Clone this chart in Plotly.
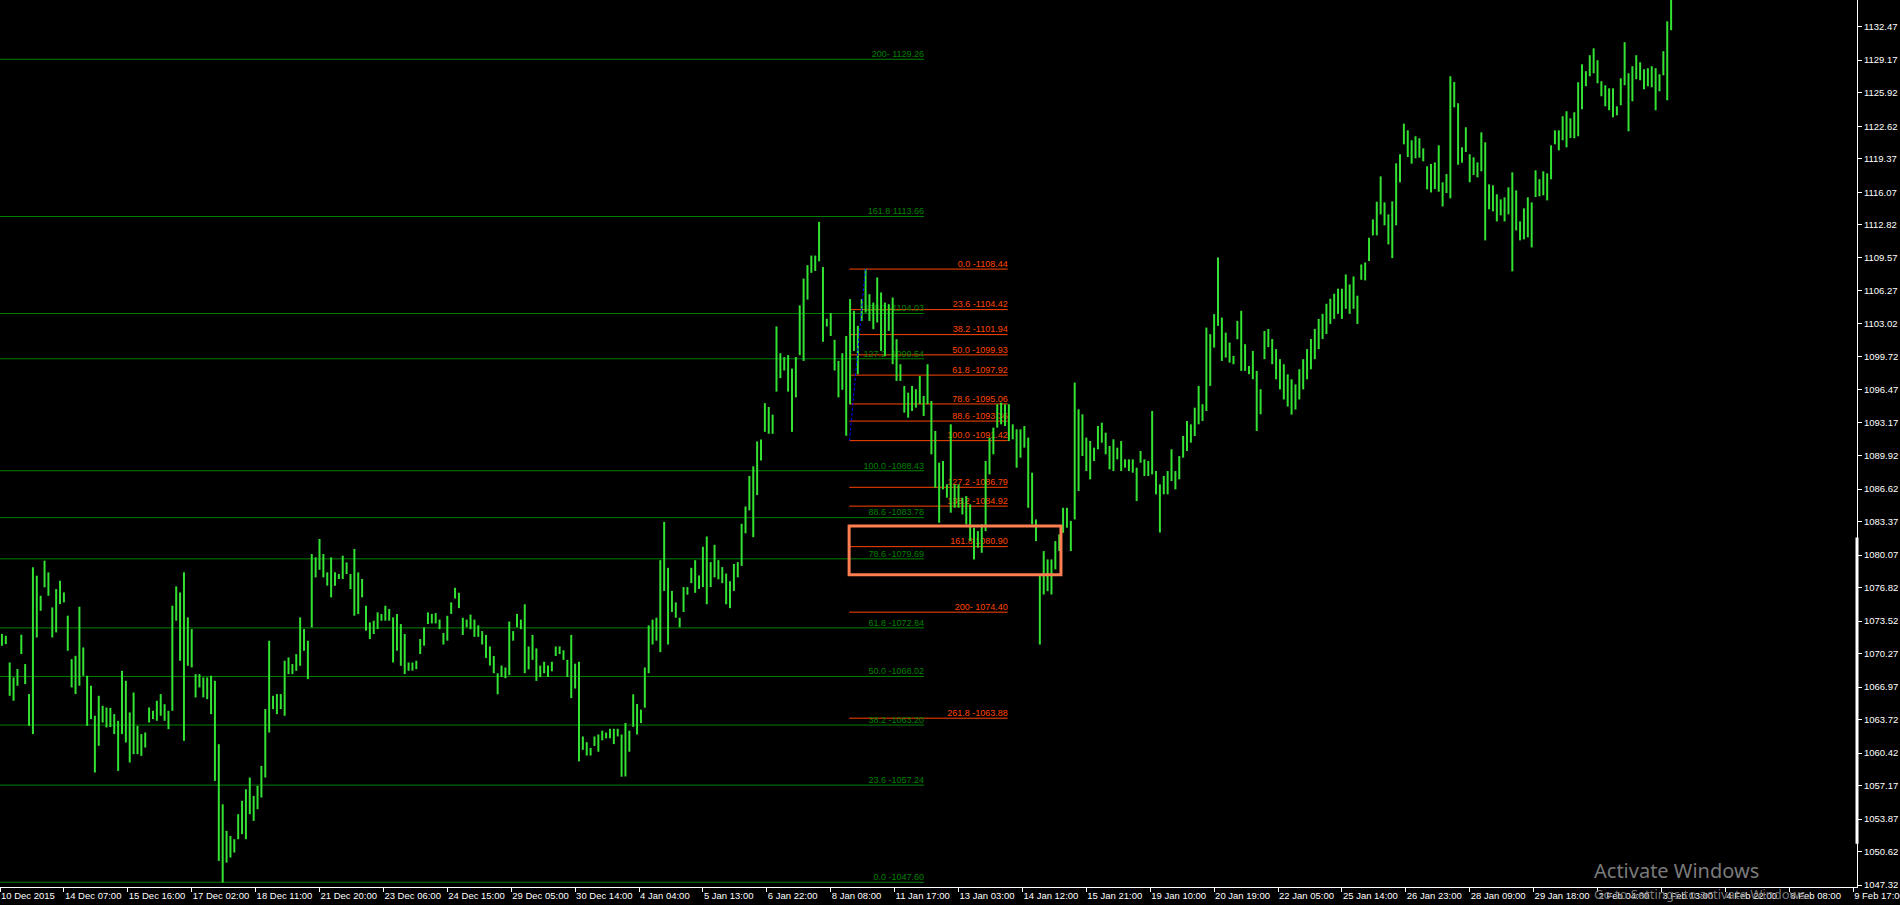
import plotly.graph_objects as go

# ---------------- data ----------------
time_labels = ["10 Dec 2015", "14 Dec 07:00", "15 Dec 16:00", "17 Dec 02:00", "18 Dec 11:00",
               "21 Dec 20:00", "23 Dec 06:00", "24 Dec 15:00", "29 Dec 05:00", "30 Dec 14:00",
               "4 Jan 04:00", "5 Jan 13:00", "6 Jan 22:00", "8 Jan 08:00", "11 Jan 17:00",
               "13 Jan 03:00", "14 Jan 12:00", "15 Jan 21:00", "19 Jan 10:00", "20 Jan 19:00",
               "22 Jan 05:00", "25 Jan 14:00", "26 Jan 23:00", "28 Jan 09:00", "29 Jan 18:00",
               "2 Feb 04:00", "3 Feb 13:00", "4 Feb 22:00", "8 Feb 08:00", "9 Feb 17:00"]
time_label_bars = [0, 33, 66, 99, 132, 165, 198, 231, 264, 297, 330, 363, 396, 429, 462,
                   495, 528, 561, 594, 627, 660, 693, 726, 759, 792, 825, 858, 891, 924, 957]

price_ticks = [1132.47, 1129.17, 1125.92, 1122.62, 1119.37, 1116.07, 1112.82, 1109.57, 1106.27,
               1103.02, 1099.72, 1096.47, 1093.17, 1089.92, 1086.62, 1083.37, 1080.07, 1076.82,
               1073.52, 1070.27, 1066.97, 1063.72, 1060.42, 1057.17, 1053.87, 1050.62, 1047.32]

# H1 bars (every second bar), high / low
highs = [
    1072.23, 1072.06, 1069.41, 1067.92, 1068.75, 1072.16, 1069.25, 1066.27, 1078.85, 1078.02,
    1076.03, 1079.51, 1078.35, 1074.87, 1076.69, 1077.52, 1076.36, 1074.05, 1069.74, 1070.07,
    1074.94, 1070.90, 1068.09, 1067.10, 1064.12, 1066.10, 1065.11, 1064.94, 1064.90, 1064.28,
    1063.62, 1068.58, 1067.59, 1064.45, 1066.43, 1063.12, 1062.30, 1062.46, 1064.94, 1064.61,
    1065.61, 1066.27, 1065.27, 1064.61, 1075.04, 1076.96, 1076.36, 1078.35, 1073.88, 1072.72,
    1068.25, 1068.25, 1067.92, 1067.92, 1068.09, 1067.59, 1061.30, 1055.34, 1052.70, 1052.20,
    1051.87, 1054.35, 1055.68, 1056.83, 1057.99, 1056.17, 1057.17, 1059.15, 1064.78, 1071.56,
    1066.10, 1066.27, 1066.27, 1069.58, 1069.91, 1069.25, 1070.24, 1073.88, 1072.72, 1071.56,
    1080.17, 1079.84, 1081.66, 1080.17, 1078.35, 1079.84, 1078.35, 1078.18, 1080.00, 1079.34,
    1078.18, 1080.67, 1078.35, 1077.69, 1075.04, 1073.38, 1073.55, 1074.38, 1074.21, 1075.04,
    1074.71, 1073.88, 1074.21, 1073.22, 1072.23, 1069.41, 1069.40, 1069.58, 1071.73, 1072.89,
    1074.38,
    1074.23, 1074.31, 1073.66, 1072.33, 1074.04, 1075.37, 1076.82, 1076.32, 1073.85, 1073.66,
    1074.16, 1073.66, 1073.09, 1072.52, 1072.14, 1071.00, 1070.05, 1068.34, 1069.10, 1068.91,
    1073.47, 1072.52, 1074.23, 1073.66, 1075.18, 1071.00, 1072.14, 1070.81, 1069.10, 1069.48,
    1069.10, 1069.48, 1071.00, 1071.00, 1070.62, 1069.67, 1072.14, 1069.29, 1069.48, 1062.07,
    1061.50, 1060.93, 1062.07, 1062.26, 1062.64, 1062.45, 1062.83, 1062.83, 1062.83, 1062.26,
    1063.40, 1062.64, 1066.25, 1065.29, 1064.73, 1068.91, 1073.09, 1073.66, 1073.85, 1079.56,
    1083.36, 1078.80, 1076.51, 1075.37, 1073.85, 1076.89, 1076.89, 1078.80, 1079.56, 1078.04,
    1080.89, 1081.91, 1079.37, 1081.08, 1079.56, 1078.87, 1078.23, 1077.47, 1079.18, 1079.37,
    1083.17, 1084.88, 1087.92, 1088.87, 1091.34, 1091.53, 1095.14, 1094.76, 1094.00, 1102.75,
    1100.09, 1099.71, 1099.90, 1098.57, 1099.71, 1104.84, 1107.50, 1108.83, 1109.78, 1109.78,
    1113.13, 1108.64, 1103.51, 1104.08, 1101.42, 1099.33, 1100.09, 1101.80,
    1105.46, 1104.30, 1102.81, 1105.46, 1108.44, 1105.95, 1105.12, 1107.61, 1106.12, 1105.12,
    1104.96, 1105.62, 1101.48, 1099.00, 1096.85, 1096.18, 1096.85, 1096.52, 1097.84, 1095.85,
    1099.00, 1095.36, 1092.38, 1089.23, 1089.40, 1087.08, 1093.04, 1087.08, 1087.08, 1085.76,
    1085.92, 1085.09, 1082.78, 1082.44, 1083.11, 1089.40, 1091.72, 1092.71, 1095.03, 1095.19,
    1095.03, 1095.03, 1093.04, 1092.54, 1092.54, 1092.87, 1091.72, 1088.24, 1083.60, 1078.14,
    1080.46, 1079.63, 1079.63, 1081.45, 1082.11, 1084.76, 1084.76, 1083.44, 1097.18, 1094.53,
    1094.03, 1091.72, 1091.38, 1090.72, 1092.87, 1093.20, 1092.21, 1090.89, 1091.55, 1090.72,
    1091.38, 1089.56, 1089.56, 1089.56, 1088.74, 1090.39, 1089.56, 1089.40, 1094.36, 1088.40,
    1087.08, 1087.91, 1088.40, 1090.56, 1088.40, 1089.89, 1091.88, 1093.37, 1093.04, 1094.69,
    1096.85, 1095.03, 1102.64, 1101.98, 1103.97, 1109.59, 1103.63, 1102.14, 1101.15, 1099.83,
    1103.30, 1104.30, 1100.99, 1098.83, 1100.32, 1098.34, 1096.52,
    1102.30, 1102.50, 1101.50, 1100.50, 1099.50, 1099.00, 1098.00, 1097.50, 1097.00, 1098.50,
    1099.50, 1100.50, 1101.50, 1102.50, 1103.50, 1104.00, 1105.00, 1105.50, 1106.00, 1106.50,
    1106.49, 1107.91, 1106.92, 1107.71, 1105.80, 1108.90, 1109.10, 1111.55, 1113.37, 1115.13,
    1117.64, 1115.06, 1113.87, 1115.16, 1118.93, 1119.83, 1122.87, 1122.21, 1121.22, 1121.62,
    1121.42, 1120.42, 1118.64, 1118.87, 1119.03, 1120.72, 1117.05, 1117.87, 1127.57, 1127.00,
    1124.89, 1120.52, 1122.51, 1119.83, 1119.53, 1119.03, 1122.01, 1121.02, 1116.85, 1116.75,
    1115.86, 1115.36, 1115.56, 1116.55, 1118.04, 1116.25, 1113.17, 1114.47, 1115.56, 1115.06,
    1118.24, 1117.35, 1118.14, 1117.94, 1120.72, 1122.21, 1122.21, 1123.60, 1124.10, 1123.40,
    1124.00, 1126.98, 1128.76, 1128.07, 1129.66, 1130.35, 1129.16, 1127.08, 1126.68, 1126.38,
    1126.38, 1124.59, 1127.37, 1130.95, 1127.87, 1128.57, 1129.66, 1128.96, 1128.27, 1128.37,
    1128.57, 1128.37, 1127.77, 1130.06, 1133.03, 1135.60,
]
lows = [
    1071.07, 1071.23, 1066.10, 1065.61, 1067.10, 1070.24, 1067.26, 1063.12, 1062.30, 1071.89,
    1074.54, 1076.86, 1076.03, 1071.89, 1072.39, 1075.20, 1075.37, 1070.57, 1066.93, 1066.27,
    1067.10, 1068.09, 1063.12, 1063.79, 1058.49, 1061.14, 1063.45, 1062.96, 1063.00, 1062.30,
    1058.65, 1062.30, 1061.47, 1059.48, 1060.31, 1060.31, 1060.14, 1060.97, 1063.45, 1063.79,
    1063.62, 1064.12, 1063.62, 1062.79, 1064.61, 1073.55, 1069.58, 1061.63, 1069.08, 1068.92,
    1065.94, 1066.93, 1065.94, 1065.77, 1064.28, 1057.66, 1049.72, 1047.57, 1049.55, 1050.05,
    1050.55, 1051.87, 1052.37, 1051.87, 1054.35, 1053.69, 1054.85, 1056.01, 1057.99, 1062.46,
    1064.78, 1064.28, 1064.78, 1064.12, 1068.25, 1068.25, 1068.58, 1069.08, 1070.57, 1067.76,
    1072.89, 1077.85, 1078.60, 1077.85, 1077.03, 1075.87, 1077.03, 1077.69, 1077.69, 1078.18,
    1076.69, 1074.05, 1074.21, 1075.87, 1072.56, 1071.73, 1072.23, 1072.72, 1073.55, 1073.55,
    1073.55, 1069.41, 1070.57, 1069.08, 1068.25, 1068.58, 1068.60, 1068.75, 1070.24, 1071.07,
    1073.22,
    1073.28, 1073.28, 1072.71, 1071.19, 1071.57, 1074.23, 1075.75, 1074.80, 1072.14, 1072.90,
    1072.71, 1071.95, 1071.95, 1071.19, 1069.86, 1069.10, 1068.34, 1066.25, 1067.96, 1067.85,
    1068.15, 1071.57, 1072.90, 1072.71, 1068.34, 1068.72, 1069.67, 1067.58, 1067.96, 1068.34,
    1067.96, 1068.53, 1070.05, 1070.24, 1069.67, 1067.96, 1065.87, 1066.82, 1059.60, 1060.74,
    1060.17, 1060.17, 1061.12, 1060.55, 1061.69, 1061.88, 1061.88, 1061.31, 1062.07, 1058.08,
    1058.10, 1060.55, 1063.02, 1062.26, 1063.40, 1064.92, 1068.34, 1071.19, 1071.57, 1070.43,
    1076.51, 1071.19, 1074.42, 1073.85, 1072.90, 1074.42, 1076.13, 1077.28, 1076.32, 1076.71,
    1076.89, 1075.18, 1076.89, 1077.85, 1077.66, 1077.28, 1075.18, 1074.80, 1076.51, 1077.85,
    1078.99, 1082.22, 1084.50, 1081.84, 1086.02, 1089.44, 1092.29, 1092.10, 1092.10, 1096.28,
    1097.62, 1098.38, 1096.28, 1092.29, 1095.71, 1099.90, 1099.33, 1105.41, 1108.07, 1108.26,
    1109.21, 1101.23, 1102.75, 1101.80, 1098.38, 1095.71, 1096.47, 1091.91,
    1095.03, 1100.32, 1098.01, 1103.30, 1104.13, 1103.30, 1102.48, 1103.14, 1100.32, 1099.83,
    1102.31, 1099.00, 1097.34, 1097.34, 1094.20, 1093.70, 1094.36, 1094.69, 1095.03, 1093.87,
    1095.03, 1090.06, 1086.75, 1083.27, 1086.58, 1085.76, 1084.27, 1084.76, 1084.76, 1084.10,
    1083.11, 1081.45, 1079.63, 1080.79, 1080.29, 1082.44, 1088.07, 1090.06, 1092.71, 1093.04,
    1092.87, 1091.38, 1091.55, 1088.74, 1089.73, 1090.72, 1084.76, 1083.11, 1081.45, 1071.19,
    1076.15, 1076.48, 1076.15, 1078.64, 1080.46, 1082.28, 1082.78, 1080.46, 1083.60, 1086.42,
    1089.89, 1088.40, 1087.58, 1089.40, 1090.56, 1091.22, 1090.06, 1088.57, 1088.40, 1089.56,
    1088.40, 1088.74, 1088.40, 1088.24, 1085.42, 1089.23, 1087.91, 1087.91, 1088.07, 1086.09,
    1082.30, 1086.09, 1086.09, 1087.41, 1086.58, 1087.58, 1089.73, 1090.39, 1091.22, 1091.88,
    1093.04, 1093.37, 1094.36, 1096.85, 1100.65, 1102.81, 1099.33, 1099.66, 1099.16, 1099.00,
    1101.48, 1098.34, 1098.34, 1098.01, 1097.51, 1092.38, 1094.03,
    1099.50, 1100.70, 1099.00, 1097.50, 1096.50, 1095.50, 1094.80, 1094.00, 1094.50, 1095.50,
    1096.50, 1097.50, 1098.50, 1099.50, 1100.50, 1101.50, 1102.00, 1103.00, 1103.50, 1104.00,
    1103.50, 1104.50, 1104.00, 1104.50, 1103.00, 1107.38, 1107.32, 1109.24, 1111.78, 1111.78,
    1113.87, 1112.78, 1110.89, 1109.53, 1112.78, 1117.05, 1120.82, 1119.56, 1118.90, 1119.43,
    1119.50, 1119.13, 1116.35, 1116.05, 1116.39, 1116.12, 1114.66, 1115.99, 1115.46, 1124.49,
    1118.80, 1119.00, 1120.06, 1117.05, 1117.78, 1117.54, 1118.14, 1111.29, 1114.37, 1114.17,
    1113.17, 1113.77, 1113.17, 1113.87, 1108.21, 1112.28, 1111.29, 1111.39, 1111.59, 1110.59,
    1115.59, 1115.66, 1115.76, 1115.26, 1117.35, 1120.82, 1120.22, 1121.22, 1120.52, 1121.45,
    1121.42, 1121.62, 1124.30, 1126.58, 1127.57, 1127.87, 1126.88, 1125.59, 1124.59, 1124.20,
    1123.50, 1123.70, 1124.69, 1126.68, 1122.11, 1125.09, 1127.28, 1127.18, 1126.28, 1126.58,
    1126.48, 1124.20, 1126.08, 1127.67, 1125.19, 1132.14,
]
bar_no = list(range(1, 2 * len(highs), 2))   # H1 bar index of each drawn bar

# Fibonacci retracement #1 (green)
green_fib_prices = [1129.26, 1113.66, 1104.03, 1099.54, 1088.43, 1083.78, 1079.69,
                    1072.84, 1068.02, 1063.20, 1057.24, 1047.60]
green_fib_text = ["200- 1129.26", "161.8 1113.66", "138.2 -1104.03", "127.2 -1099.54",
                  "100.0 -1088.43", "88.6 -1083.78", "78.6 -1079.69", "61.8 -1072.84",
                  "50.0 -1068.02", "38.2 -1063.20", "23.6 -1057.24", "0.0 -1047.60"]
green_fib_span = [-10, 477.2]

# Fibonacci retracement #2 (orange-red)
red_fib_prices = [1108.44, 1104.42, 1101.94, 1099.93, 1097.92, 1095.06, 1093.36, 1091.42,
                  1086.79, 1084.92, 1080.90, 1074.40, 1063.88]
red_fib_text = ["0.0 -1108.44", "23.6 -1104.42", "38.2 -1101.94", "50.0 -1099.93",
                "61.8 -1097.92", "78.6 -1095.06", "88.6 -1093.36", "100.0 -1091.42",
                "127.2 -1086.79", "138.2 -1084.92", "161.8 1080.90", "200- 1074.40",
                "261.8 -1063.88"]
red_fib_span = [438.6, 520.4]
red_fib_anchor_bars = [438.7, 446.9]
red_fib_anchor_prices = [1091.42, 1108.44]

# rectangle object (time span, price span)
rect_bars = [438.5, 547.9]
rect_prices = [1078.10, 1082.95]

# ---------------- styles ----------------
BG = "#000000"
BAR = "#33e233"
GREEN = "#008000"
RED = "#ff4500"
RECT = "#ff7f50"
FONT = "Liberation Sans"

fig = go.Figure()

# fib labels (drawn beneath the bars)
fig.add_trace(go.Scatter(x=[green_fib_span[1]] * len(green_fib_prices), y=green_fib_prices,
                         mode="text", text=green_fib_text, textposition="top left",
                         textfont=dict(family=FONT, size=9, color=GREEN), hoverinfo="skip"))
fig.add_trace(go.Scatter(x=[red_fib_span[1]] * len(red_fib_prices), y=red_fib_prices,
                         mode="text", text=red_fib_text, textposition="top left",
                         textfont=dict(family=FONT, size=9, color=RED), hoverinfo="skip"))

# bars as vertical high-low segments
xs, ys = [], []
for n, h, l in zip(bar_no, highs, lows):
    xs += [n, n, None]
    ys += [l, h, None]
fig.add_trace(go.Scatter(x=xs, y=ys, mode="lines", line=dict(color=BAR, width=2),
                         hoverinfo="skip"))

shapes = []
for p in green_fib_prices:
    shapes.append(dict(type="line", xref="x", yref="y", x0=green_fib_span[0], x1=green_fib_span[1],
                       y0=p, y1=p, line=dict(color=GREEN, width=1), layer="below"))
for p in red_fib_prices:
    shapes.append(dict(type="line", xref="x", yref="y", x0=red_fib_span[0], x1=red_fib_span[1],
                       y0=p, y1=p, line=dict(color=RED, width=1), layer="below"))
shapes.append(dict(type="line", xref="x", yref="y",
                   x0=red_fib_anchor_bars[0], x1=red_fib_anchor_bars[1],
                   y0=red_fib_anchor_prices[0], y1=red_fib_anchor_prices[1],
                   line=dict(color="#0000ff", width=1, dash="3px,2px")))
shapes.append(dict(type="rect", xref="x", yref="y", x0=rect_bars[0], x1=rect_bars[1],
                   y0=rect_prices[0], y1=rect_prices[1],
                   line=dict(color=RECT, width=3), fillcolor="rgba(0,0,0,0)"))
# thick segment on the price scale
shapes.append(dict(type="line", xref="paper", yref="y", x0=1, x1=1, y0=1051.41, y1=1081.80,
                   line=dict(color="white", width=3)))

annotations = [
    dict(text="Activate Windows", xref="paper", yref="paper", x=0.8575, y=0.019,
         xanchor="left", yanchor="middle", showarrow=False,
         font=dict(family="Noto Sans", size=20, color="#7a7a7a")),
    dict(text="Go to Settings to activate Windows.", xref="paper", yref="paper", x=0.8575,
         y=-0.008, xanchor="left", yanchor="middle", showarrow=False,
         font=dict(family="Noto Sans", size=13, color="#7a7a7a")),
]

fig.update_layout(
    width=1900, height=905,
    margin=dict(l=0, r=43, t=0, b=18, autoexpand=False),
    paper_bgcolor=BG, plot_bgcolor=BG,
    showlegend=False,
    shapes=shapes, annotations=annotations,
    xaxis=dict(range=[0, 959], showgrid=False, zeroline=False, showline=True,
               linecolor="white", linewidth=1, ticks="outside", ticklen=4, tickwidth=1,
               tickcolor="white", tickvals=time_label_bars, ticktext=time_labels,
               ticklabelposition="outside right", tickangle=0, automargin=False,
               ticklabeloverflow="allow",
               tickfont=dict(family=FONT, size=9.5, color="white")),
    yaxis=dict(side="right", range=[1047.13, 1135.14], showgrid=False, zeroline=False,
               showline=True, linecolor="white", linewidth=1, ticks="outside", ticklen=4,
               tickwidth=1, tickcolor="white", tickvals=price_ticks, automargin=False,
               ticktext=[f"{v:.2f}" for v in price_ticks],
               tickfont=dict(family=FONT, size=9.5, color="white")),
)

fig.write_html("out.html", config={"displayModeBar": False},
               post_script="document.body.style.margin='0';document.body.style.overflow='hidden';")
